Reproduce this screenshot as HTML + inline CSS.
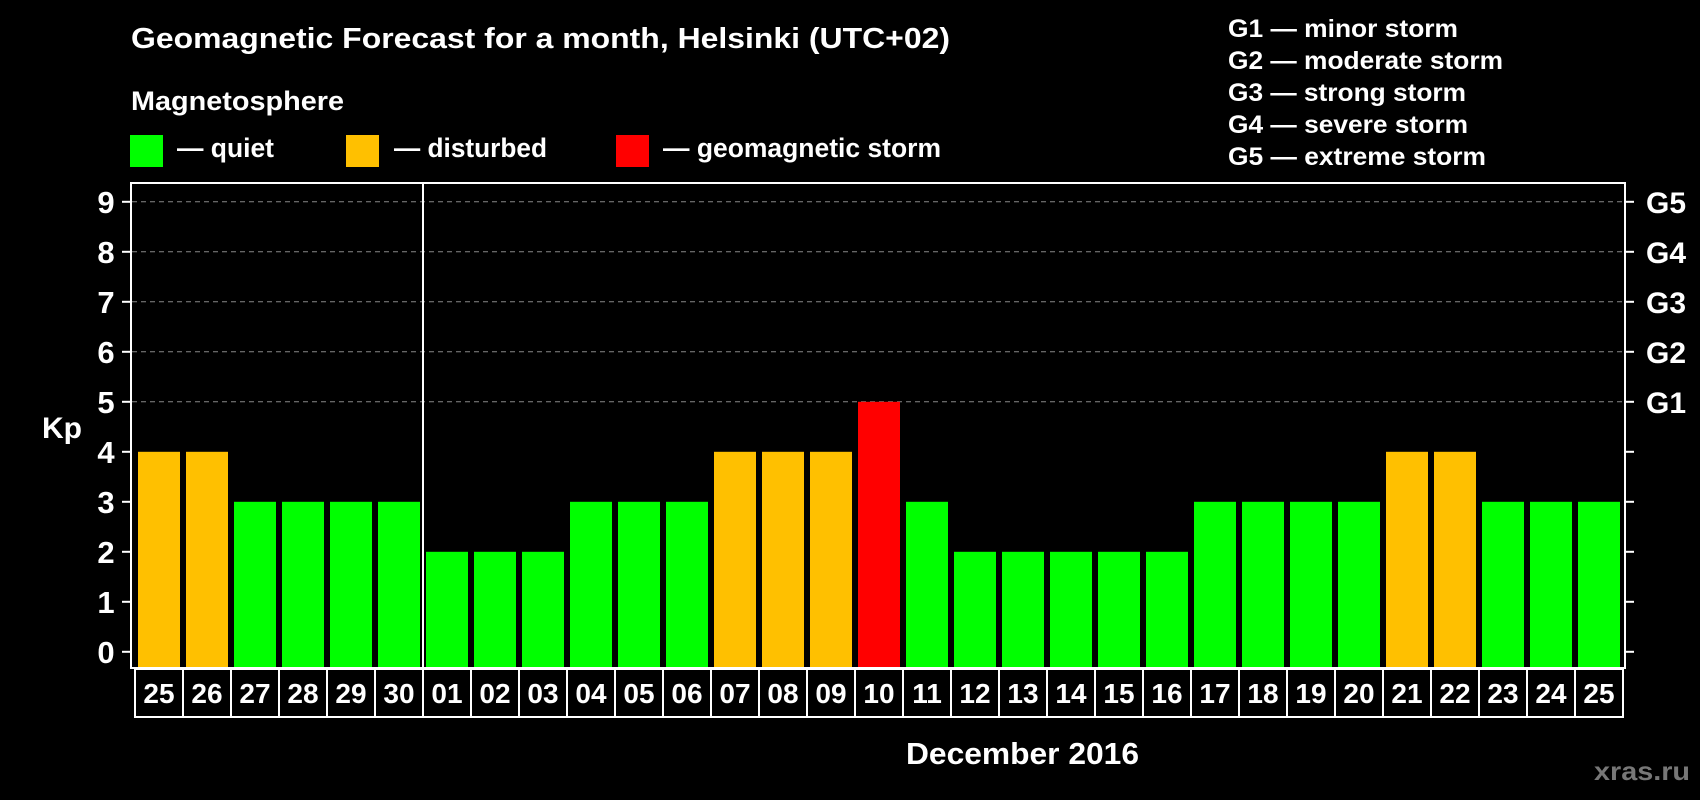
<!DOCTYPE html>
<html><head><meta charset="utf-8"><style>html,body{margin:0;padding:0;background:#000;}svg{display:block}</style></head>
<body>
<svg width="1700" height="800" xmlns="http://www.w3.org/2000/svg" font-family="Liberation Sans, Arial, sans-serif" font-weight="bold">
<rect width="1700" height="800" fill="#000"/>
<g fill="#fff">
<text x="131" y="48" font-size="29" textLength="819" lengthAdjust="spacingAndGlyphs">Geomagnetic Forecast for a month, Helsinki (UTC+02)</text>
<text x="131" y="110" font-size="27" textLength="213" lengthAdjust="spacingAndGlyphs">Magnetosphere</text>
<text x="177" y="157" font-size="27" textLength="97" lengthAdjust="spacingAndGlyphs">— quiet</text>
<text x="394" y="157" font-size="27" textLength="153" lengthAdjust="spacingAndGlyphs">— disturbed</text>
<text x="663" y="157" font-size="27" textLength="278" lengthAdjust="spacingAndGlyphs">— geomagnetic storm</text>
<text x="1228" y="37" font-size="25" textLength="230" lengthAdjust="spacingAndGlyphs">G1 — minor storm</text>
<text x="1228" y="69" font-size="25" textLength="275" lengthAdjust="spacingAndGlyphs">G2 — moderate storm</text>
<text x="1228" y="101" font-size="25" textLength="238" lengthAdjust="spacingAndGlyphs">G3 — strong storm</text>
<text x="1228" y="133" font-size="25" textLength="240" lengthAdjust="spacingAndGlyphs">G4 — severe storm</text>
<text x="1228" y="165" font-size="25" textLength="258" lengthAdjust="spacingAndGlyphs">G5 — extreme storm</text>
<text x="906" y="764" font-size="31" textLength="233" lengthAdjust="spacingAndGlyphs">December 2016</text>
<text x="42" y="438" font-size="30">Kp</text>
</g>
<text x="1594" y="780" font-size="26" fill="#777" textLength="96" lengthAdjust="spacingAndGlyphs">xras.ru</text>
<rect x="130" y="135" width="33" height="32" fill="#00ff00"/>
<rect x="346" y="135" width="33" height="32" fill="#ffc000"/>
<rect x="616" y="135" width="33" height="32" fill="#ff0000"/>
<g id="grid" stroke="#888" stroke-width="1" stroke-dasharray="5,4"></g>
<g id="bars"></g>
<g id="axes" stroke="#fff" stroke-width="2" fill="none"></g>
<g id="lbl" fill="#fff" font-size="28" text-anchor="middle"></g>
</svg>
<script>
const vals=[4,4,3,3,3,3,2,2,2,3,3,3,4,4,4,5,3,2,2,2,2,2,3,3,3,3,4,4,3,3,3];
const days=["25","26","27","28","29","30"];for(let d=1;d<=25;d++)days.push(String(d).padStart(2,"0"));
const NS="http://www.w3.org/2000/svg";
function el(p,t,a,txt){const e=document.createElementNS(NS,t);for(const k in a)e.setAttribute(k,a[k]);if(txt!==undefined)e.textContent=txt;document.getElementById(p).appendChild(e);}
const y0=651.8,u=50;
for(let k=5;k<=9;k++){const y=y0-k*u;el("grid","line",{x1:132,x2:1624,y1:y,y2:y});}
vals.forEach((v,i)=>{const x=138+48*i;const c=v>=5?"#ff0000":v>=4?"#ffc000":"#00ff00";el("bars","rect",{x:x,y:y0-v*u,width:42,height:668-(y0-v*u),fill:c});});
el("axes","rect",{x:131,y:183,width:1494,height:485});
el("axes","line",{x1:423,x2:423,y1:183,y2:668});
for(let k=0;k<=9;k++){const y=y0-k*u;el("axes","line",{x1:122,x2:131,y1:y,y2:y});el("axes","line",{x1:1625,x2:1634,y1:y,y2:y});
el("lbl","text",{x:106,y:y+11,"font-size":31},String(k));
if(k>=5)el("lbl","text",{x:1666,y:y+11,"font-size":30},"G"+(k-4));}
el("axes","rect",{x:135,y:669,width:1488,height:48});
for(let i=1;i<31;i++){const x=135+48*i;el("axes","line",{x1:x,x2:x,y1:669,y2:717});}
days.forEach((d,i)=>el("lbl","text",{x:159+48*i,y:703},d));
</script>
</body></html>
